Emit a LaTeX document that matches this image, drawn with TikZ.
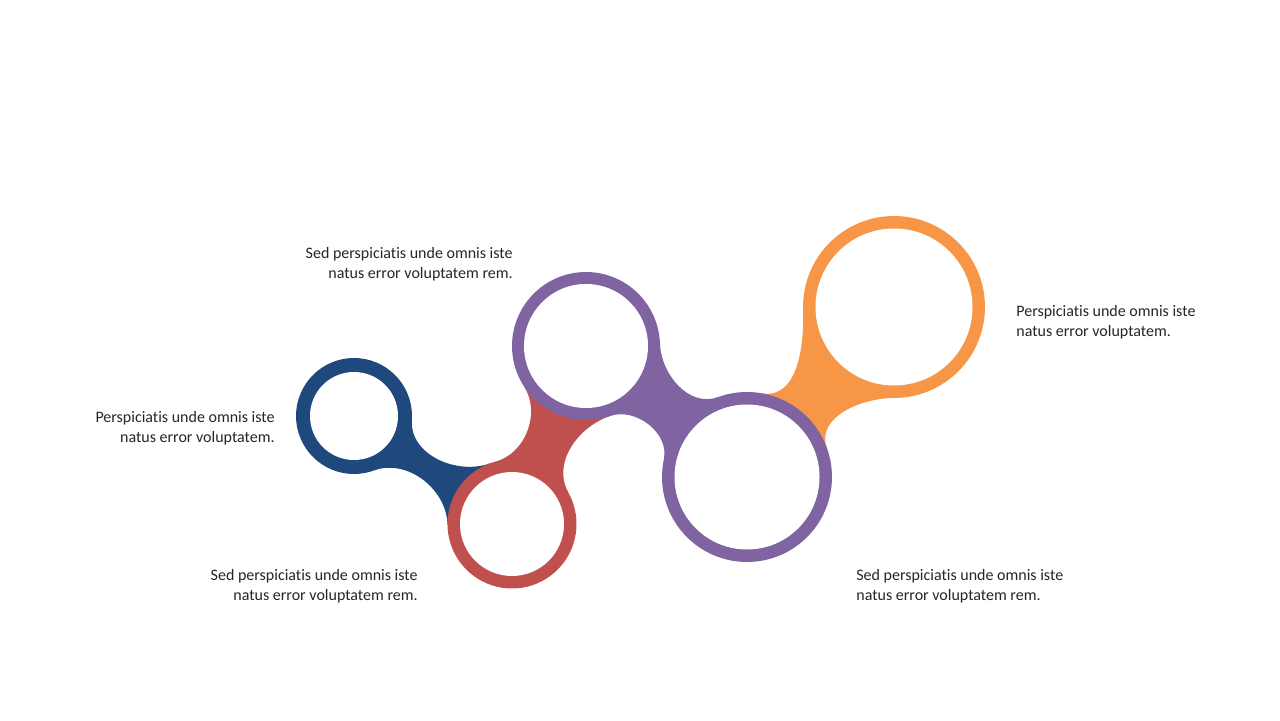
\documentclass[tikz,border=0pt]{standalone}
\usepackage{fontspec}
\setmainfont{Carlito}[Ligatures=NoCommon]
\usetikzlibrary{backgrounds}
\definecolor{ringblue}{HTML}{1F497D}
\definecolor{ringred}{HTML}{C0504D}
\definecolor{ringpurple}{HTML}{8064A2}
\definecolor{ringorange}{HTML}{F79646}
\begin{document}
\begin{tikzpicture}[x=0.02cm,y=0.02cm,
  ring/.style={circle,inner sep=0pt,outer sep=0pt},
  txt/.style={inner sep=0pt,font=\fontsize{9.1}{11.4}\selectfont,text=black!85}]
  \useasboundingbox (0,0) rectangle (1280,720);

  \node[ring,fill=ringblue,minimum size=2.32cm] (c1) at (354,304) {};
  \fill[white] (c1) circle (44);
  \node[ring,fill=ringred,minimum size=2.58cm] (c2) at (512,196) {};
  \fill[white] (c2) circle (52);
  \node[ring,fill=ringpurple,minimum size=2.96cm] (c3) at (586,374) {};
  \fill[white] (c3) circle (62);
  \node[ring,fill=ringpurple,minimum size=3.40cm] (c4) at (747,243) {};
  \fill[white] (c4) circle (72.5);
  \node[ring,fill=ringorange,minimum size=3.64cm] (c5) at (894,413) {};
  \fill[white] (c5) circle (78.5);

  \begin{scope}[on background layer]
    \fill[white] (0,0) rectangle (1280,720);
    \fill[ringblue] (c1.-4) to[out=-94,in=200] (c2.110) -- (c2.181)
      to[out=91,in=20] (c1.-70) -- cycle;
    \fill[ringred] (c2.29) to[out=119,in=199] (c3.-71) -- (c3.213)
      to[out=303,in=15] (c2.105) -- cycle;
    \fill[ringpurple] (c3.2) to[out=-88,in=200] (c4.110) -- (c4.168)
      to[out=78,in=19] (c3.-71) -- cycle;
    \fill[ringorange] (c4.80) to[out=-10,in=272] (c5.182) -- (c5.270)
      to[out=180,in=110] (c4.20) -- cycle;
  \end{scope}

  \node[txt,anchor=north east,align=right] (t1) at (513,473)
    {Sed perspiciatis unde omnis iste\\natus error voluptatem rem.};
  \node[txt,anchor=north east,align=right] (t2) at (275,309)
    {Perspiciatis unde omnis iste\\natus error voluptatem.};
  \node[txt,anchor=north east,align=right] (t3) at (418,151)
    {Sed perspiciatis unde omnis iste\\natus error voluptatem rem.};
  \node[txt,anchor=north west,align=left] (t4) at (1016,415)
    {Perspiciatis unde omnis iste\\natus error voluptatem.};
  \node[txt,anchor=north west,align=left] (t5) at (856,151)
    {Sed perspiciatis unde omnis iste\\natus error voluptatem rem.};
\end{tikzpicture}
\end{document}
